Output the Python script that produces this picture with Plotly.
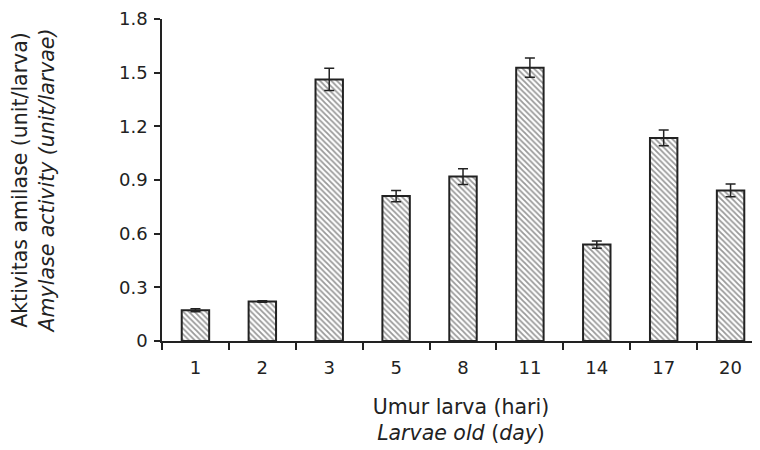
import plotly.graph_objects as go

days = ["1", "2", "3", "5", "8", "11", "14", "17", "20"]
activity = [0.172, 0.221, 1.462, 0.81, 0.919, 1.528, 0.539, 1.135, 0.842]
err = [0.008, 0.004, 0.062, 0.032, 0.044, 0.054, 0.02, 0.044, 0.035]
y_ticks = [0, 0.3, 0.6, 0.9, 1.2, 1.5, 1.8]
y_tick_labels = ["0", "0.3", "0.6", "0.9", "1.2", "1.5", "1.8"]

FONT = "DejaVu Sans"
fig = go.Figure()
fig.add_trace(go.Bar(
    x=days, y=activity, width=0.41,
    marker=dict(color="white", line=dict(color="#222", width=2),
                pattern=dict(shape="\\", fgcolor="#333", bgcolor="white", size=4, solidity=0.45)),
    error_y=dict(type="data", array=err, visible=True, color="#222", thickness=1.5, width=5),
))
fig.update_layout(
    width=760, height=450,
    margin=dict(l=154, r=8, t=11, b=117),
    plot_bgcolor="white", paper_bgcolor="white",
    showlegend=False,
    font=dict(family=FONT, size=18, color="#222"),
    xaxis=dict(
        type="category", range=[-0.5, 8.44], automargin=False,
        showline=True, linecolor="#222", linewidth=1.5,
        ticks="outside", tickson="boundaries", ticklen=7, tickwidth=1.5, tickcolor="#222",
        showgrid=False, tickfont=dict(size=18), ticklabelstandoff=10,
        ticklabeloverflow="allow",
        title=dict(text="Umur larva (hari)<br><i>Larvae old</i> (<i>day</i>)", standoff=22,
                   font=dict(size=20.5)),
    ),
    yaxis=dict(
        range=[0, 1.8], tickvals=y_ticks, ticktext=y_tick_labels, automargin=False,
        showline=True, linecolor="#222", linewidth=1.5,
        ticks="outside", ticklen=6, tickwidth=1.5, tickcolor="#222",
        showgrid=False, zeroline=False, tickfont=dict(size=18), ticklabelstandoff=3,
        ticklabeloverflow="allow",
        title=dict(text="Aktivitas amilase (unit/larva)<br><i>Amylase activity (unit/larvae)</i>",
                   standoff=62, font=dict(size=20.5)),
    ),
)
fig.write_html("out.html")
